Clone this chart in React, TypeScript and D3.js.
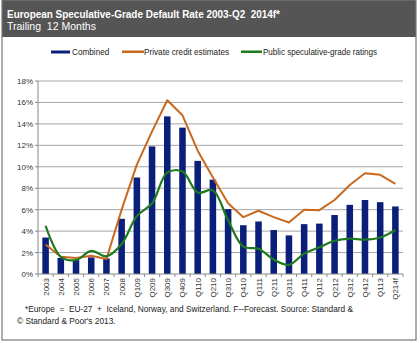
import React from "react";
import * as d3 from "d3";

const categories = ["2003","2004","2005","2006","2007","2008","Q109","Q209","Q309","Q409","Q110","Q210","Q310","Q410","Q111","Q211","Q311","Q411","Q112","Q212","Q312","Q412","Q113","Q214f"];
const combined = [3.4,1.5,1.3,1.55,1.45,5.15,9.0,11.9,14.7,13.65,10.55,8.8,6.05,4.55,4.9,4.1,3.6,4.65,4.7,5.5,6.45,6.9,6.7,6.3];
const privateEst = [2.75,1.6,1.5,1.7,1.4,6.0,10.2,13.3,16.2,14.8,11.5,9.0,6.6,5.3,5.9,5.3,4.8,6.0,5.95,6.9,8.3,9.4,9.25,8.4];
const publicRatings = [4.5,1.6,1.3,2.15,1.65,2.8,5.4,6.6,9.45,9.55,7.6,7.8,5.0,2.55,2.35,1.35,0.85,1.9,2.5,3.1,3.3,3.2,3.4,4.1];
const yTicks = [0,2,4,6,8,10,12,14,16,18];

const W = 420, H = 343;
const left = 38, right = 403, top = 81, bottom = 274;
const font = "'Liberation Sans', Arial, sans-serif";
const pre = { whiteSpace: "pre" as const };

export default function App() {
  const x = d3.scaleBand().domain(categories).range([left, right]).paddingInner(0.57).paddingOuter(0.285);
  const xs = d3.scaleBand().domain(categories).range([left, right]);
  const y = d3.scaleLinear().domain([0, 18]).range([bottom, top]);
  const cx = (i: number) => (xs(categories[i]) as number) + xs.bandwidth() / 2;
  const lineLin = d3.line<number>().x((_, i) => cx(i)).y(d => y(d));
  const lineSmooth = d3.line<number>().x((_, i) => cx(i)).y(d => y(d)).curve(d3.curveCatmullRom.alpha(0.5));
  return (
    <div style={{ position: "absolute", left: 0, top: 0 }}>
      <svg width={W} height={H} style={{ display: "block" }} fontFamily={font}>
        <rect x={0} y={0} width={W} height={H} fill="#fff" />
        <rect x={2} y={0} width={414} height={37} fill="#555555" />
        <text x={7} y={18} fill="#fff" fontSize={11} fontWeight="bold" style={pre} textLength={273} lengthAdjust="spacingAndGlyphs">European Speculative-Grade Default Rate 2003-Q2  2014f*</text>
        <text x={7} y={29.5} fill="#fff" fontSize={10.5} style={pre}>Trailing  12 Months</text>
        <rect x={2} y={0} width={414} height={340} fill="none" stroke="#777" strokeWidth={1.2} />
        {/* legend */}
        <g fontSize={8.2} fill="#222">
          <rect x={51} y={50.5} width={19} height={3} fill="#0a1f7a" />
          <text x={72} y={55}>Combined</text>
          <rect x={122} y={50.5} width={22} height={2.5} fill="#c8691e" />
          <text x={144} y={55}>Private credit estimates</text>
          <rect x={241} y={50.5} width={21} height={2.5} fill="#1e7a1e" />
          <text x={263} y={55} textLength={114} lengthAdjust="spacingAndGlyphs">Public speculative-grade ratings</text>
        </g>
        {/* grid */}
        {yTicks.map(t => (
          <g key={t}>
            {t > 0 && <line x1={left} x2={right} y1={y(t)} y2={y(t)} stroke="#a6a6a6" strokeWidth={1} />}
            <text x={33} y={y(t) + 3} textAnchor="end" fontSize={8} fill="#333">{t}%</text>
            <line x1={left - 3} x2={left} y1={y(t)} y2={y(t)} stroke="#888" />
          </g>
        ))}
        {/* bars */}
        {combined.map((v, i) => (
          <rect key={i} x={x(categories[i])} y={y(v)} width={x.bandwidth()} height={bottom - y(v)} fill="#0a1f7a" />
        ))}
        <path d={lineLin(privateEst) || ""} fill="none" stroke="#c8691e" strokeWidth={2} strokeLinejoin="round" />
        <path d={lineSmooth(publicRatings) || ""} fill="none" stroke="#1e7a1e" strokeWidth={2.2} strokeLinejoin="round" />
        {/* axes */}
        <line x1={left} x2={left} y1={top} y2={bottom} stroke="#888" />
        <line x1={left} x2={right} y1={bottom} y2={bottom} stroke="#888" />
        {categories.map((c, i) => (
          <g key={c}>
            <line x1={xs(c)} x2={xs(c)} y1={bottom} y2={bottom + 3} stroke="#888" />
            <text transform={`translate(${cx(i) + 3},${bottom + 4}) rotate(-90)`} textAnchor="end" fontSize={8} fill="#333">{c}</text>
          </g>
        ))}
        <line x1={right} x2={right} y1={bottom} y2={bottom + 3} stroke="#888" />
        <g fontSize={8.3} fill="#222">
          <text x={25} y={312} style={pre} textLength={328} lengthAdjust="spacingAndGlyphs">*Europe  =  EU-27  +  Iceland, Norway, and Switzerland. F--Forecast. Source: Standard &amp;</text>
          <text x={17} y={324}>© Standard &amp; Poor's 2013.</text>
        </g>
      </svg>
    </div>
  );
}
